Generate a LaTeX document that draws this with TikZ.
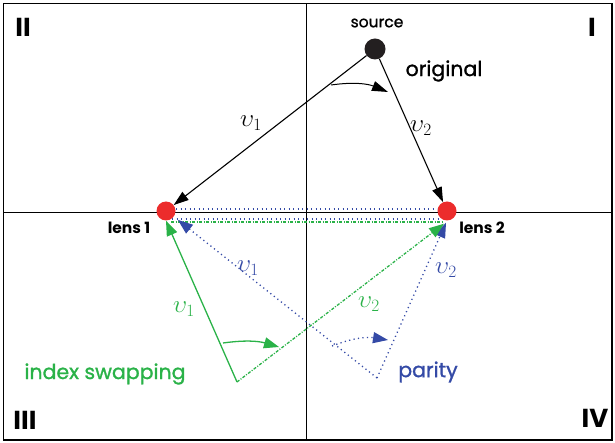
\documentclass[tikz,border=0pt]{standalone}
\usepackage{fontspec}
\setmainfont{Poppins}
\newfontfamily\popmed{Poppins}[FakeBold=1.2]
\usetikzlibrary{arrows.meta}
\definecolor{cgreen}{RGB}{42,178,72}
\definecolor{cblue}{RGB}{52,74,166}
\definecolor{cred}{RGB}{236,44,44}
\definecolor{cdark}{RGB}{35,31,32}
\tikzset{
  lbl/.style={font=\popmed\fontsize{20.5}{24}\selectfont, inner sep=0pt},
  quad/.style={font=\fontsize{26}{30}\selectfont\bfseries, inner sep=0pt},
  lenslbl/.style={font=\fontsize{15.5}{18}\selectfont\bfseries, inner sep=0pt},
  ups/.style={font=\fontsize{25}{28}\selectfont, inner sep=0pt},
  lens/.style={circle, fill=cred, minimum size=19pt, inner sep=0pt},
  blk/.style={-{Triangle[length=15pt,width=10pt]}, line width=1.1pt},
  grn/.style={cgreen, line width=1.3pt},
  grnarr/.style={-{Triangle[length=15pt,width=11pt]}},
  blu/.style={cblue, line width=1.3pt, dash pattern=on 1.2pt off 3.3pt},
  bluarr/.style={-{Triangle[length=15pt,width=11pt]}},
  dashdot/.style={cgreen, line width=1.3pt, dash pattern=on 3pt off 1.5pt on 1pt off 1.5pt},
}
\begin{document}
\begin{tikzpicture}[x=1pt,y=-1pt]
\useasboundingbox (0,0) rectangle (615,443);
% frame and axes
\draw[line width=1.6pt] (3.5,3.5) rectangle (612,440);
\draw[line width=0.8pt] (306,3.5) -- (306,440);
\draw[line width=0.8pt] (3.5,212) -- (612,212);
% nodes
\node[lens] (lens1) at (166,211) {};
\node[lens] (lens2) at (447,211) {};
\node[circle, fill=cdark, minimum size=21pt, inner sep=0pt] (src) at (375,49) {};
\coordinate (g) at (237,382);
\coordinate (p) at (377,378);
% horizontal lines between lenses
\coordinate (h1a) at (176,209); \coordinate (h1b) at (437,209);
\coordinate (h2a) at (172,219); \coordinate (h2b) at (441,219);
\coordinate (h3a) at (171,222); \coordinate (h3b) at (442,222);
\draw[blu] (h1a) -- (h1b);
\draw[blu] (h2a) -- (h2b);
\draw[dashdot] (h3a) -- (h3b);
% original
\draw[blk] (src) -- (lens1);
\draw[blk] (src) -- (lens2);
\coordinate (oa) at (331,85); \coordinate (ob) at (388,92);
\draw[blk, line width=1pt, -{Triangle[length=16pt,width=10pt]}] (oa) to[bend left=15] (ob);
% parity (blue)
\draw[blu, bluarr] (p) -- ([xshift=5pt,yshift=-2pt]lens1.south east);
\draw[blu, bluarr] (p) -- ([xshift=-1pt,yshift=-2pt]lens2.south);
\coordinate (ba) at (332,346); \coordinate (bb) at (388,340);
\draw[blu, bluarr] (ba) to[bend left=15] (bb);
% index swapping (green)
\draw[grn, grnarr] (g) -- (lens1.south);
\draw[dashdot, grnarr] (g) -- ([xshift=-3pt,yshift=-3pt]lens2.south);
\coordinate (ga) at (223,343); \coordinate (gb) at (279,347);
\draw[grn, grnarr] (ga) to[bend left=12] (gb);
% labels
\node[font=\popmed\fontsize{15.5}{18}\selectfont, inner sep=0pt] (srclbl) at (377,23) {source};
\node[lbl] (orig) at (444,71) {original};
\node[lenslbl] (l1) at (129,228) {lens 1};
\node[lenslbl] (l2) at (482,228) {lens 2};
\node[ups] at (251,123) {$\upsilon_1$};
\node[ups] at (421,128) {$\upsilon_2$};
\node[ups, cblue] at (248,268) {$\upsilon_1$};
\node[ups, cblue] at (446,270) {$\upsilon_2$};
\node[ups, cgreen] at (184,309) {$\upsilon_1$};
\node[ups, cgreen] at (369,304) {$\upsilon_2$};
\node[lbl, cgreen] (idx) at (105,374) {index swapping};
\node[lbl, cblue] (par) at (428,372) {parity};
\node[quad] at (23,27) {II};
\node[quad] at (592,27) {I};
\node[quad] at (25,420) {III};
\node[quad] at (595,418) {IV};
\end{tikzpicture}
\end{document}
